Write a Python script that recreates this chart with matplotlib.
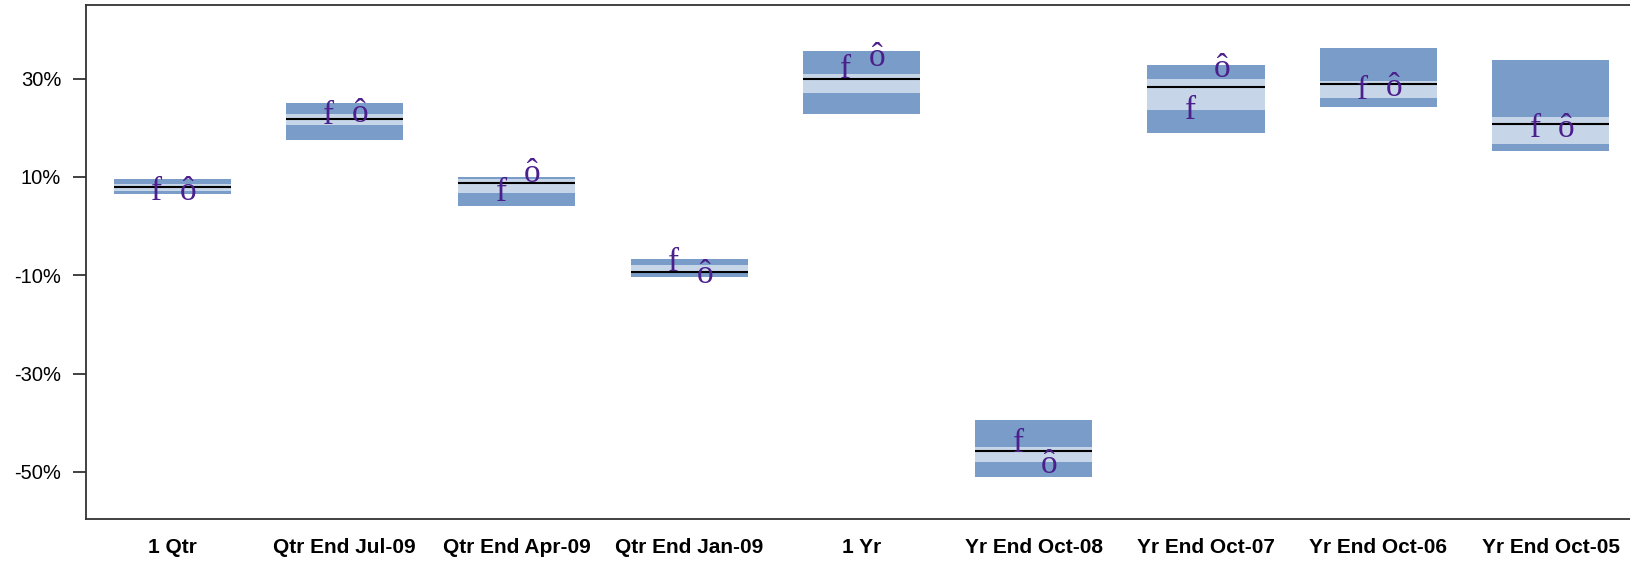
import matplotlib
matplotlib.use('Agg')
import matplotlib.pyplot as plt
import numpy as np

categories = ['1 Qtr', 'Qtr End Jul-09', 'Qtr End Apr-09', 'Qtr End Jan-09', '1 Yr',
              'Yr End Oct-08', 'Yr End Oct-07', 'Yr End Oct-06', 'Yr End Oct-05']

# outer range (dark box)
p_high = [9.6, 25.1, 10.0, -6.7, 35.6, -39.4, 32.8, 36.2, 33.8]
p_low = [6.5, 17.5, 4.0, -10.35, 22.9, -51.0, 19.0, 24.2, 15.35]
# inner range (light band)
q_high = [8.5, 22.8, 9.6, -7.9, 31.0, -45.0, 29.9, 29.5, 22.2]
q_low = [7.2, 20.6, 6.8, -9.1, 27.15, -48.1, 23.6, 26.1, 16.7]
median = [7.9, 21.8, 8.85, -9.25, 29.95, -45.75, 28.25, 28.9, 20.7]
# symbol positions (baseline of the glyph)
fund_mark = [5.3, 20.8, 5.1, -9.05, 30.15, -46.0, 21.75, 25.9, 18.1]
bench_mark = [5.3, 21.2, 9.05, -11.6, 32.6, -50.3, 30.4, 26.55, 18.2]

yticks = [30, 10, -10, -30, -50]

dark = '#799DC8'
light = '#C6D6E8'
purple = '#4B1F8C'

fig = plt.figure(figsize=(16.31, 5.61), dpi=100)
ax = fig.add_axes([86 / 1631, 1 - 519 / 561, 1 - 86 / 1631, (519 - 5) / 561])

x = np.arange(len(categories))
w = 0.68
hi = np.array(p_high)
lo = np.array(p_low)
qh = np.array(q_high)
ql = np.array(q_low)
ax.bar(x, hi - lo, bottom=lo, width=w, color=dark, zorder=2)
ax.bar(x, qh - ql, bottom=ql, width=w, color=light, zorder=3)
ax.hlines(median, x - w / 2, x + w / 2, color='black', lw=1.5, zorder=4)

for i in range(len(categories)):
    ax.text(x[i] - 0.09, fund_mark[i], 'f', ha='center', va='baseline',
            family='Liberation Serif', fontsize=24, color=purple, zorder=5)
    ax.text(x[i] + 0.09, bench_mark[i], 'ô', ha='center', va='baseline',
            family='Liberation Serif', fontsize=24, color=purple, zorder=5)

ax.set_xlim(-0.5, 8.466)
ax.set_ylim(-59.6, 45)
ax.set_yticks(yticks)
ax.set_yticklabels([f'{v}%' for v in yticks], family='Liberation Sans', fontsize=14.5)
ax.set_xticks(x)
ax.set_xticklabels(categories, family='Liberation Sans', fontsize=15, fontweight='bold')
ax.tick_params(axis='x', length=0, pad=14)
ax.tick_params(axis='y', length=9.4, width=1.3, color='#333333', pad=8.5)
for s in ['left', 'top', 'bottom']:
    ax.spines[s].set_color('#333333')
    ax.spines[s].set_linewidth(1.3)
ax.spines['right'].set_visible(False)

fig.savefig('out.png', dpi=100)
